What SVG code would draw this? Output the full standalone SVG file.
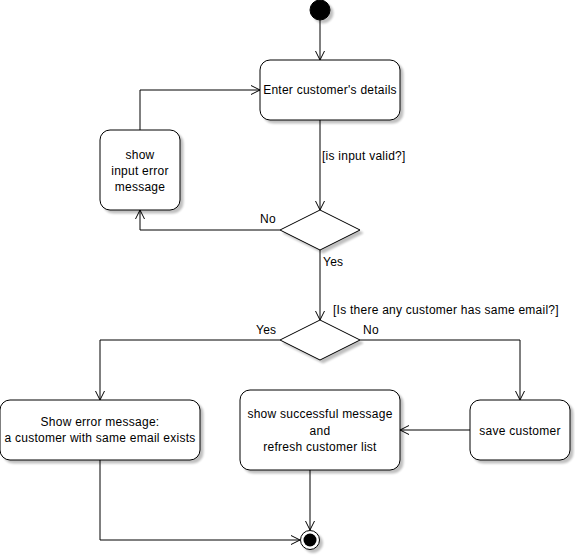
<svg xmlns="http://www.w3.org/2000/svg" width="575" height="555" viewBox="0 0 575 555">
<defs>
<filter id="sh" x="-20%" y="-20%" width="150%" height="150%">
<feGaussianBlur in="SourceAlpha" stdDeviation="1"/>
<feOffset dx="3" dy="3" result="o"/>
<feComponentTransfer><feFuncA type="linear" slope="0.25"/></feComponentTransfer>
<feMerge><feMergeNode/><feMergeNode in="SourceGraphic"/></feMerge>
</filter>
<marker id="ar" viewBox="0 0 11 11" refX="10" refY="5.5" markerWidth="11" markerHeight="11" markerUnits="userSpaceOnUse" orient="auto">
<path d="M1,1 L10,5.5 L1,10" fill="none" stroke="#000" stroke-width="1"/>
</marker>
</defs>
<style>
.n{fill:#fff;stroke:#000;stroke-width:1;filter:url(#sh)}
.t{font-family:"Liberation Sans",Arial,sans-serif;font-size:12px;fill:#000;letter-spacing:0.25px}
.c{text-anchor:middle}
.e{fill:none;stroke:#000;stroke-width:1;marker-end:url(#ar)}
</style>
<rect width="575" height="555" fill="#fff"/>
<g id="connectors">
<path class="e" d="M320,20 L320,60"/>
<path class="e" d="M320,120 L320,210"/>
<path class="e" d="M280,230 L140,230 L140,210"/>
<path class="e" d="M140,130 L140,90 L260,90"/>
<path class="e" d="M320,250 L320,320"/>
<path class="e" d="M280,340 L100,340 L100,400"/>
<path class="e" d="M360,340 L520,340 L520,400"/>
<path class="e" d="M470,430 L400,430"/>
<path class="e" d="M310,470 L310,530"/>
<path class="e" d="M100,460 L100,540 L300,540"/>
<text class="t" x="322" y="160">[is input valid?]</text>
<text class="t" x="260" y="223">No</text>
<text class="t" x="323" y="266">Yes</text>
<text class="t" x="333" y="314">[Is there any customer has same email?]</text>
<text class="t" x="256" y="334">Yes</text>
<text class="t" x="363" y="334">No</text>
</g>
<g id="start"><circle class="n" cx="320" cy="10" r="10" style="fill:#000"/></g>
<g id="enter"><rect class="n" x="260" y="60" width="140" height="60" rx="10"/><text class="t c" x="330" y="94">Enter customer's details</text></g>
<g id="inputError"><rect class="n" x="100" y="130" width="80" height="80" rx="10"/>
<text class="t c" x="140" y="159">show</text><text class="t c" x="140" y="175">input error</text><text class="t c" x="140" y="191">message</text></g>
<g id="valid"><path class="n" d="M320,210 L360,230 L320,250 L280,230 Z"/></g>
<g id="sameEmail"><path class="n" d="M320,320 L360,340 L320,360 L280,340 Z"/></g>
<g id="showError"><rect class="n" x="0" y="400" width="200" height="60" rx="10"/>
<text class="t c" x="100" y="426">Show error message:</text><text class="t c" x="100" y="442">a customer with same email exists</text></g>
<g id="success"><rect class="n" x="240" y="390" width="160" height="80" rx="10"/>
<text class="t c" x="320" y="418">show successful message</text><text class="t c" x="320" y="435">and</text><text class="t c" x="320" y="451">refresh customer list</text></g>
<g id="save"><rect class="n" x="470" y="400" width="100" height="60" rx="10"/><text class="t c" x="520" y="435">save customer</text></g>
<g id="end"><circle class="n" cx="310" cy="540" r="9.5"/><circle cx="310" cy="540" r="6.5" fill="#000"/></g>
</svg>
